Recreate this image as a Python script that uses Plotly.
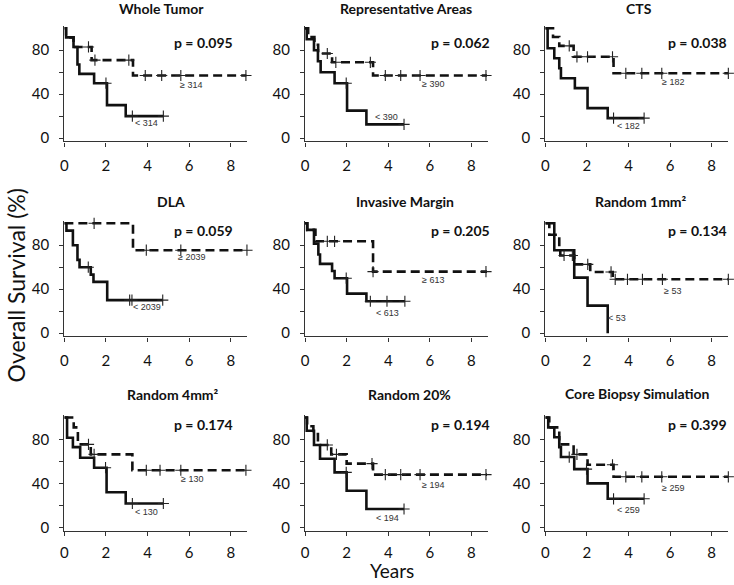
import plotly.graph_objects as go

W, H = 734, 585

titles = ["Whole Tumor", "Representative Areas", "CTS",
          "DLA", "Invasive Margin", "Random 1mm²",
          "Random 4mm²", "Random 20%", "Core Biopsy Simulation"]
p_texts = ["p = 0.095", "p = 0.062", "p = 0.038",
           "p = 0.059", "p = 0.205", "p = 0.134",
           "p = 0.174", "p = 0.194", "p = 0.399"]
cutoffs = ["314", "390", "182", "2039", "613", "53", "130", "194", "259"]

# low group (< cutoff), solid line
low_times = [
    [0, 0.08, 0.44, 0.63, 0.72, 1.43, 2.05, 2.95, 4.76],
    [0, 0.08, 0.43, 0.62, 0.75, 1.42, 2.02, 2.95, 4.76],
    [0, 0.11, 0.43, 0.67, 0.75, 1.42, 2.03, 3.0, 4.75],
    [0, 0.1, 0.41, 0.63, 0.73, 1.27, 1.4, 2.06, 4.73],
    [0, 0.11, 0.43, 0.64, 0.72, 1.3, 1.42, 2.02, 2.95, 4.8],
    [0, 0.43, 1.39, 2.03, 3.0],
    [0, 0.13, 0.41, 0.76, 1.43, 2.03, 2.95, 4.76],
    [0, 0.08, 0.43, 0.72, 1.42, 2.0, 2.95, 4.76],
    [0, 0.14, 0.43, 0.67, 0.75, 1.39, 2.03, 3.0, 4.75],
]
low_surv = [
    [100, 91.7, 83, 67, 58.5, 50, 30, 20, 20],
    [100, 90, 80, 70, 60, 50, 25, 12.5, 12.5],
    [100, 81.8, 72.7, 63.6, 54.5, 45.5, 27.3, 18.2, 18.2],
    [100, 93.3, 80, 66.7, 60, 53.3, 46.7, 30, 30],
    [100, 94, 81.5, 71.6, 63, 56.5, 50, 36, 29, 29],
    [100, 75.5, 50.5, 25, 0],
    [100, 81.5, 73, 63.4, 54.3, 32, 21.7, 21.7],
    [100, 88, 75, 62.5, 50, 33.3, 16.7, 16.7],
    [100, 91, 82, 73, 64, 53, 40, 26, 26],
]
low_cens = [
    [2.0, 3.27, 4.76],
    [1.98, 4.76],
    [3.28, 4.75],
    [1.15, 3.14, 3.25, 4.73],
    [1.98, 3.14, 3.94, 4.8],
    [],
    [1.98, 3.27, 4.76],
    [1.98, 4.76],
    [1.15, 1.98, 3.28, 4.75],
]

# high group (>= cutoff), dashed line
high_times = [
    [0, 0.08, 0.44, 1.31, 3.3, 8.75],
    [0, 0.15, 0.45, 0.63, 1.3, 3.27, 8.75],
    [0, 0.37, 0.67, 1.36, 3.28, 8.8],
    [0, 3.3, 8.8],
    [0, 0.1, 0.5, 3.27, 8.75],
    [0, 0.19, 0.67, 0.72, 1.39, 2.16, 3.24, 8.8],
    [0, 0.45, 0.65, 1.27, 3.27, 8.8],
    [0, 0.1, 0.4, 0.62, 1.26, 2.0, 3.27, 8.75],
    [0, 0.19, 0.67, 1.36, 2.03, 3.28, 8.8],
]
high_surv = [
    [100, 91.7, 83, 71, 57, 57],
    [100, 92, 85, 77, 69, 57, 57],
    [100, 92, 84, 74, 59, 59],
    [100, 75.5, 75.5],
    [100, 94, 83.6, 56, 56],
    [100, 89.6, 78, 70.7, 62.6, 55.7, 49, 49],
    [100, 91, 75.5, 66.4, 52, 52],
    [100, 92, 85, 75, 66.4, 58, 48, 48],
    [100, 91, 75.5, 66.4, 57, 46, 46],
]
high_cens = [
    [1.16, 1.47, 3.1, 3.89, 4.68, 5.6, 8.73],
    [1.07, 1.48, 3.14, 3.86, 4.6, 5.53, 8.7],
    [1.15, 1.52, 2.03, 3.23, 3.87, 4.64, 5.6, 8.8],
    [1.43, 3.94, 5.6, 8.78],
    [1.07, 1.42, 3.27, 8.7],
    [0.9, 1.3, 2.04, 3.16, 3.36, 3.95, 4.67, 5.63, 8.8],
    [1.16, 1.43, 3.94, 4.6, 5.6, 8.73],
    [1.07, 1.51, 3.22, 3.86, 4.6, 5.53, 8.7],
    [1.52, 3.23, 3.87, 4.64, 5.6, 8.8],
]

x_ticks = [0, 2, 4, 6, 8]
y_ticks = [0, 20, 40, 60, 80]
y_ticktext = ["0", "", "40", "", "80"]

# label positions (data coords) for group labels and p-values
hi_label_pos = [(6.1, 48), (6.13, 49), (6.16, 51), (6.13, 69.5), (6.13, 48.4),
                (6.1, 38.5), (6.13, 43.8), (6.17, 38.3), (6.16, 36.2)]
lo_label_pos = [(3.97, 14), (3.94, 19), (3.98, 11), (3.97, 23.5), (3.97, 18.3),
                (3.47, 13.6), (3.97, 13.6), (3.97, 8.2), (3.98, 16)]
p_pos = [(6.7, 86.6), (7.46, 86.6), (7.3, 86.6),
         (6.71, 93), (7.46, 93), (7.3, 93),
         (6.71, 93.6), (7.46, 93.6), (7.3, 93.6)]
title_px = [(158, 8.5), (404, 8.5), (638, 8.5),
            (168, 203), (403, 203), (640, 203),
            (170, 398), (408, 398), (637, 397)]


def step_val(times, surv, t):
    v = surv[0]
    for ti, si in zip(times, surv):
        if ti <= t:
            v = si
    return v


col_x0 = [60.7, 302.7, 544.3]
plot_w = 184
row_y100 = [28.5, 225.2, 421.1]   # pixel of value 100
px_per_unit = 1.108
Y_MIN, Y_MAX = -3, 102

FONT = "Lato"
fig = go.Figure()
layout = {}
annotations = []

for i in range(9):
    r, c = divmod(i, 3)
    n = i + 1
    xa = "x" if n == 1 else f"x{n}"
    ya = "y" if n == 1 else f"y{n}"
    xk = "xaxis" if n == 1 else f"xaxis{n}"
    yk = "yaxis" if n == 1 else f"yaxis{n}"

    x0 = col_x0[c] / W
    x1 = (col_x0[c] + plot_w) / W
    top_px = row_y100[r] - (Y_MAX - 100) * px_per_unit
    bot_px = row_y100[r] + (100 - Y_MIN) * px_per_unit
    ytop = 1 - top_px / H
    ybot = 1 - bot_px / H

    layout[xk] = dict(domain=[x0, x1], range=[0, 8.8], anchor=ya,
                      tickvals=x_ticks, ticks="outside", ticklen=4, tickwidth=1.2,
                      tickcolor="#333", showline=True, linecolor="#333", linewidth=1.2,
                      showgrid=False, zeroline=False,
                      ticklabelstandoff=4 if r == 2 else 6,
                      tickfont=dict(family=FONT, size=15, color="#111"))
    layout[yk] = dict(domain=[ybot, ytop], range=[Y_MIN, Y_MAX], anchor=xa,
                      tickvals=y_ticks, ticktext=y_ticktext, ticks="outside", ticklen=4,
                      tickwidth=1.2, tickcolor="#333", showline=True, linecolor="#333",
                      linewidth=1.2, showgrid=False, zeroline=False, ticklabelstandoff=7,
                      tickfont=dict(family=FONT, size=15, color="#111"))

    # dashed (high)
    fig.add_trace(go.Scatter(x=high_times[i], y=high_surv[i], mode="lines",
                             line=dict(color="#111", width=2.6, dash="9px,5px", shape="hv"),
                             xaxis=xa, yaxis=ya, showlegend=False, hoverinfo="skip"))
    # solid (low)
    fig.add_trace(go.Scatter(x=low_times[i], y=low_surv[i], mode="lines",
                             line=dict(color="#111", width=2.6, shape="hv"),
                             xaxis=xa, yaxis=ya, showlegend=False, hoverinfo="skip"))
    # censor marks
    cx = list(high_cens[i]) + list(low_cens[i])
    cy = [step_val(high_times[i], high_surv[i], t) for t in high_cens[i]] + \
         [step_val(low_times[i], low_surv[i], t) for t in low_cens[i]]
    if cx:
        fig.add_trace(go.Scatter(x=cx, y=cy, mode="markers", cliponaxis=False,
                                 marker=dict(symbol="cross-thin", size=8,
                                             line=dict(color="#222", width=1.1)),
                                 xaxis=xa, yaxis=ya, showlegend=False, hoverinfo="skip"))

    annotations.append(dict(x=p_pos[i][0], y=p_pos[i][1], xref=xa, yref=ya,
                            text=f"<b>{p_texts[i]}</b>", showarrow=False,
                            font=dict(family=FONT, size=14, color="#111"),
                            xanchor="center", yanchor="middle"))
    annotations.append(dict(x=hi_label_pos[i][0], y=hi_label_pos[i][1], xref=xa, yref=ya,
                            text=f"≥ {cutoffs[i]}", showarrow=False,
                            font=dict(family="Liberation Sans Narrow, Liberation Sans", size=9, color="#333"),
                            xanchor="center", yanchor="middle"))
    annotations.append(dict(x=lo_label_pos[i][0], y=lo_label_pos[i][1], xref=xa, yref=ya,
                            text=f"< {cutoffs[i]}", showarrow=False,
                            font=dict(family="Liberation Sans Narrow, Liberation Sans", size=9, color="#333"),
                            xanchor="center", yanchor="middle"))
    tx, ty = title_px[i]
    annotations.append(dict(x=tx / W, y=1 - ty / H, xref="paper", yref="paper",
                            text=f"<b>{titles[i]}</b>", showarrow=False,
                            font=dict(family=FONT, size=14, color="#111"),
                            xanchor="center", yanchor="middle"))

annotations.append(dict(x=12 / W, y=1 - 288 / H, xref="paper", yref="paper",
                        text="Overall Survival (%)", textangle=-90, showarrow=False,
                        font=dict(family=FONT, size=23, color="#111"),
                        xanchor="center", yanchor="middle"))
annotations.append(dict(x=390 / W, y=1 - 575.5 / H, xref="paper", yref="paper",
                        text="Years", showarrow=False, borderpad=0,
                        font=dict(family=FONT, size=19, color="#111"),
                        xanchor="center", yanchor="middle"))

fig.update_layout(**layout)
fig.update_layout(width=W, height=H, margin=dict(l=0, r=0, t=0, b=0),
                  paper_bgcolor="white", plot_bgcolor="white",
                  annotations=annotations)

fig.write_html("out.html", config={"displayModeBar": False},
               post_script="document.body.style.margin='0px';document.body.style.overflow='hidden';")
